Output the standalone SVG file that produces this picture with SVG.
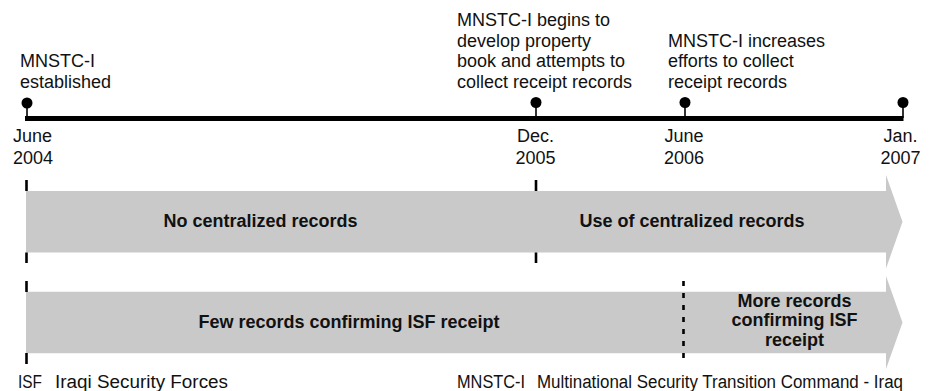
<svg xmlns="http://www.w3.org/2000/svg" width="933" height="391" viewBox="0 0 933 391">
  <style>
    text { font-family: "Liberation Sans", Arial, Helvetica, sans-serif; fill: #111; }
    .lbl { font-size: 18px; }
    .bar-t { font-size: 18px; font-weight: bold; text-anchor: middle; }
    .mid { text-anchor: middle; }
    .bar { fill: #c9c9c9; }
    .axis { stroke: #000; stroke-width: 5; fill: none; }
    .stem { stroke: #000; stroke-width: 1.6; }
    .tick { stroke: #000; stroke-width: 2.6; }
    .dash { stroke: #000; stroke-width: 2.6; stroke-dasharray: 5 7; }
    .dot { fill: #000; }
    .leg { font-size: 18px; }
  </style>
  <rect width="933" height="391" fill="#ffffff"/>

  <g id="bar-records">
    <path class="bar" d="M26,191 H886 V175 L902.5,221.75 L886,268.5 V252.5 H26 Z"/>
    <text class="bar-t" x="260.5" y="227">No centralized records</text>
    <text class="bar-t" x="692" y="227">Use of centralized records</text>
  </g>

  <g id="bar-receipt">
    <path class="bar" d="M26,291.7 H886 V276 L902.5,322.5 L886,369 V353.3 H26 Z"/>
    <text class="bar-t" x="349" y="328">Few records confirming ISF receipt</text>
    <text class="bar-t" x="794.5" y="306.5">More records</text>
    <text class="bar-t" x="794.5" y="326">confirming ISF</text>
    <text class="bar-t" x="794.5" y="345.5">receipt</text>
  </g>

  <g id="connectors">
    <line class="axis" x1="25" y1="118.5" x2="903.5" y2="118.5"/>
    <line class="stem" x1="27" y1="103" x2="27" y2="118"/>
    <line class="stem" x1="536" y1="102" x2="536" y2="118"/>
    <line class="stem" x1="685" y1="102" x2="685" y2="118"/>
    <line class="stem" x1="903" y1="102" x2="903" y2="118"/>
    <line class="tick" x1="26.5" y1="180" x2="26.5" y2="191"/>
    <line class="tick" x1="26.5" y1="252.5" x2="26.5" y2="263"/>
    <line class="tick" x1="26.5" y1="281" x2="26.5" y2="292"/>
    <line class="tick" x1="26.5" y1="353" x2="26.5" y2="364"/>
    <line class="tick" x1="536" y1="180" x2="536" y2="191"/>
    <line class="tick" x1="536" y1="252.5" x2="536" y2="263"/>
    <line class="dash" x1="683.5" y1="281" x2="683.5" y2="364"/>
  </g>

  <g id="event-jun2004">
    <circle class="dot" cx="27" cy="103" r="5.5"/>
    <text class="lbl" x="20" y="67">MNSTC-I</text>
    <text class="lbl" x="20" y="87.5">established</text>
    <text class="lbl" x="13" y="141.5">June</text>
    <text class="lbl" x="13" y="163.5">2004</text>
  </g>

  <g id="event-dec2005">
    <circle class="dot" cx="536" cy="102.5" r="5.5"/>
    <text class="lbl" x="457" y="26">MNSTC-I begins to</text>
    <text class="lbl" x="457" y="46.5">develop property</text>
    <text class="lbl" x="457" y="67">book and attempts to</text>
    <text class="lbl" x="457" y="87.5">collect receipt records</text>
    <text class="lbl mid" x="535.5" y="141.5">Dec.</text>
    <text class="lbl mid" x="535.5" y="163.5">2005</text>
  </g>

  <g id="event-jun2006">
    <circle class="dot" cx="685" cy="102.5" r="5.5"/>
    <text class="lbl" x="668" y="46.5">MNSTC-I increases</text>
    <text class="lbl" x="668" y="67">efforts to collect</text>
    <text class="lbl" x="668" y="87.5">receipt records</text>
    <text class="lbl mid" x="684" y="141.5">June</text>
    <text class="lbl mid" x="684" y="163.5">2006</text>
  </g>

  <g id="event-jan2007">
    <circle class="dot" cx="903" cy="102.5" r="5.5"/>
    <text class="lbl mid" x="900.5" y="141.5">Jan.</text>
    <text class="lbl mid" x="900.5" y="163.5">2007</text>
  </g>

  <g id="legend">
    <text class="leg" x="18" y="388" textLength="24" lengthAdjust="spacingAndGlyphs">ISF</text>
    <text class="leg" x="55" y="388" textLength="173" lengthAdjust="spacingAndGlyphs">Iraqi Security Forces</text>
    <text class="leg" x="457" y="388" textLength="68" lengthAdjust="spacingAndGlyphs">MNSTC-I</text>
    <text class="leg" x="537" y="388" textLength="366" lengthAdjust="spacingAndGlyphs">Multinational Security Transition Command - Iraq</text>
  </g>
</svg>
